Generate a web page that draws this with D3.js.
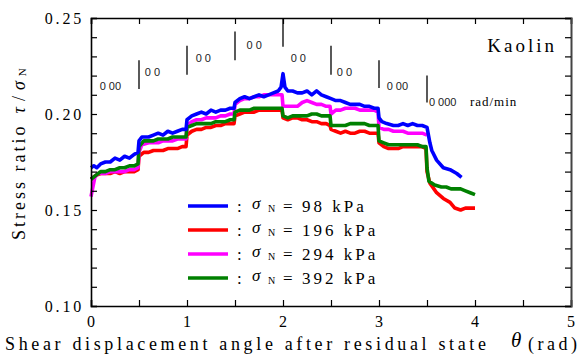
<!DOCTYPE html>
<html><head><meta charset="utf-8">
<script src="https://cdn.jsdelivr.net/npm/d3@7"></script>
<style>body{margin:0;background:#fff}svg{display:block}</style>
</head><body><svg id="c" width="587" height="356"></svg>
<script>
const xTicks = [0,1,2,3,4,5];
const yTicks = [0.10,0.15,0.20,0.25];
const seriesNames = ["98","196","294","392"];
const seriesColors = ["#0000ff","#ff0000","#ff00ff","#008000"];

const blue = [[0,0.172],[0.03,0.173],[0.06,0.172],[0.1,0.174],[0.15,0.175],[0.2,0.175],[0.25,0.177],[0.3,0.176],[0.35,0.178],[0.4,0.177],[0.45,0.179],[0.49,0.180],[0.5,0.186],[0.53,0.188],[0.6,0.188],[0.65,0.189],[0.7,0.190],[0.75,0.189],[0.8,0.191],[0.85,0.190],[0.9,0.191],[0.95,0.192],[0.99,0.192],[1.0,0.197],[1.05,0.199],[1.1,0.200],[1.15,0.201],[1.2,0.200],[1.25,0.202],[1.3,0.201],[1.35,0.202],[1.4,0.202],[1.45,0.203],[1.49,0.203],[1.5,0.206],[1.55,0.208],[1.6,0.209],[1.65,0.208],[1.7,0.209],[1.75,0.210],[1.8,0.209],[1.85,0.210],[1.9,0.211],[1.95,0.212],[1.98,0.214],[2.0,0.221],[2.02,0.214],[2.05,0.212],[2.1,0.212],[2.15,0.211],[2.2,0.211],[2.25,0.212],[2.3,0.210],[2.35,0.212],[2.4,0.210],[2.45,0.209],[2.5,0.208],[2.55,0.207],[2.6,0.207],[2.65,0.206],[2.7,0.205],[2.75,0.205],[2.8,0.205],[2.85,0.204],[2.9,0.204],[2.95,0.203],[2.99,0.203],[3.0,0.198],[3.03,0.196],[3.08,0.195],[3.15,0.194],[3.2,0.194],[3.25,0.195],[3.3,0.194],[3.35,0.195],[3.4,0.194],[3.45,0.194],[3.5,0.193],[3.53,0.185],[3.55,0.181],[3.6,0.176],[3.67,0.172],[3.74,0.171],[3.81,0.169],[3.86,0.167]];
const red = [[0,0.166],[0.05,0.168],[0.1,0.169],[0.15,0.169],[0.2,0.169],[0.25,0.170],[0.3,0.169],[0.35,0.170],[0.4,0.170],[0.45,0.170],[0.49,0.171],[0.5,0.178],[0.55,0.180],[0.6,0.180],[0.65,0.181],[0.7,0.181],[0.75,0.181],[0.8,0.182],[0.85,0.182],[0.9,0.182],[0.95,0.183],[0.99,0.183],[1.0,0.189],[1.05,0.191],[1.1,0.192],[1.15,0.192],[1.2,0.193],[1.25,0.193],[1.3,0.194],[1.35,0.194],[1.4,0.195],[1.45,0.195],[1.49,0.195],[1.5,0.199],[1.55,0.200],[1.6,0.201],[1.65,0.201],[1.7,0.201],[1.75,0.202],[1.8,0.202],[1.85,0.202],[1.9,0.202],[1.95,0.202],[1.99,0.202],[2.0,0.198],[2.05,0.197],[2.1,0.198],[2.15,0.198],[2.2,0.197],[2.25,0.197],[2.3,0.196],[2.35,0.196],[2.4,0.195],[2.45,0.195],[2.49,0.194],[2.5,0.192],[2.55,0.191],[2.6,0.190],[2.65,0.191],[2.7,0.190],[2.75,0.190],[2.8,0.191],[2.85,0.191],[2.9,0.190],[2.95,0.190],[2.99,0.190],[3.0,0.185],[3.05,0.183],[3.1,0.182],[3.15,0.182],[3.2,0.182],[3.25,0.183],[3.3,0.183],[3.35,0.183],[3.4,0.183],[3.45,0.183],[3.49,0.182],[3.5,0.170],[3.53,0.164],[3.6,0.159],[3.67,0.156],[3.74,0.154],[3.79,0.151],[3.85,0.150],[3.9,0.151],[3.95,0.151],[4.0,0.151]];
const magenta = [[0,0.157],[0.02,0.162],[0.04,0.167],[0.07,0.169],[0.1,0.169],[0.15,0.169],[0.2,0.170],[0.25,0.170],[0.3,0.170],[0.35,0.170],[0.4,0.171],[0.45,0.171],[0.49,0.172],[0.5,0.180],[0.53,0.184],[0.6,0.185],[0.65,0.185],[0.7,0.185],[0.75,0.186],[0.8,0.186],[0.85,0.186],[0.9,0.187],[0.95,0.187],[0.99,0.187],[1.0,0.194],[1.05,0.196],[1.1,0.197],[1.15,0.197],[1.2,0.198],[1.25,0.198],[1.3,0.198],[1.35,0.199],[1.4,0.199],[1.45,0.200],[1.49,0.200],[1.5,0.205],[1.55,0.207],[1.6,0.208],[1.65,0.208],[1.7,0.209],[1.75,0.209],[1.8,0.210],[1.85,0.210],[1.9,0.210],[1.95,0.210],[1.99,0.210],[2.0,0.204],[2.05,0.204],[2.1,0.204],[2.15,0.204],[2.2,0.206],[2.25,0.207],[2.3,0.206],[2.35,0.205],[2.4,0.205],[2.45,0.204],[2.49,0.204],[2.5,0.200],[2.55,0.202],[2.6,0.202],[2.65,0.203],[2.7,0.203],[2.75,0.203],[2.8,0.202],[2.85,0.202],[2.9,0.202],[2.95,0.202],[2.99,0.201],[3.0,0.193],[3.05,0.192],[3.1,0.192],[3.15,0.191],[3.2,0.191],[3.25,0.191],[3.3,0.190],[3.35,0.190],[3.4,0.190],[3.45,0.190],[3.5,0.189]];
const green = [[0,0.166],[0.05,0.168],[0.1,0.170],[0.15,0.170],[0.2,0.171],[0.25,0.171],[0.3,0.172],[0.35,0.172],[0.4,0.173],[0.45,0.173],[0.49,0.174],[0.5,0.183],[0.55,0.186],[0.6,0.186],[0.65,0.186],[0.7,0.187],[0.75,0.187],[0.8,0.187],[0.85,0.188],[0.9,0.188],[0.95,0.188],[0.99,0.188],[1.0,0.193],[1.05,0.194],[1.1,0.195],[1.15,0.195],[1.2,0.195],[1.25,0.195],[1.3,0.196],[1.35,0.196],[1.4,0.196],[1.45,0.197],[1.49,0.197],[1.5,0.201],[1.55,0.202],[1.6,0.202],[1.65,0.202],[1.7,0.203],[1.75,0.203],[1.8,0.203],[1.85,0.203],[1.9,0.203],[1.95,0.203],[1.99,0.203],[2.0,0.199],[2.05,0.198],[2.1,0.199],[2.15,0.199],[2.2,0.199],[2.25,0.199],[2.3,0.200],[2.35,0.200],[2.4,0.199],[2.45,0.199],[2.49,0.199],[2.5,0.194],[2.55,0.194],[2.6,0.194],[2.65,0.194],[2.7,0.195],[2.75,0.195],[2.8,0.195],[2.85,0.195],[2.9,0.194],[2.95,0.194],[2.99,0.194],[3.0,0.186],[3.05,0.185],[3.1,0.184],[3.15,0.184],[3.2,0.184],[3.25,0.184],[3.3,0.184],[3.35,0.184],[3.4,0.184],[3.45,0.183],[3.49,0.183],[3.5,0.172],[3.52,0.165],[3.58,0.163],[3.65,0.162],[3.7,0.162],[3.75,0.161],[3.8,0.161],[3.85,0.161],[3.9,0.160],[3.95,0.159],[4.0,0.158]];

const speedBarX = [0.5,1.0,1.5,2.0,2.5,3.0,3.5];
const speedBarTop = [0.228,0.2355,0.243,0.250,0.2355,0.228,0.220];
const speedBarBot = [0.213,0.2205,0.228,0.235,0.2205,0.2135,0.206];
const speedLabelX = [0.09,0.56,1.09,1.62,2.08,2.56,3.08,3.52];
const speedLabelY = [0.2145,0.222,0.229,0.236,0.229,0.222,0.2145,0.2065];
const speedLabels = ["0 00","0 0","0 0","0 0","0 0","0 0","0 00","0 000"];

const W=587,H=356, L=91,R=571,T=18,B=306;
const x = d3.scaleLinear().domain([0,5]).range([L,R]);
const y = d3.scaleLinear().domain([0.10,0.25]).range([B,T]);
const svg = d3.select("#c");
const serif = "'Liberation Serif','Times New Roman',serif";

// data lines
const line = d3.line().x(d=>x(d[0])).y(d=>y(d[1])).curve(d3.curveLinear);
const order = [[red,1],[magenta,2],[green,3],[blue,0]];
order.forEach(([data,i])=>{
  svg.append("path").datum(data).attr("d",line).attr("fill","none")
    .attr("stroke",seriesColors[i]).attr("stroke-width",3.6).attr("stroke-linejoin","round");
});

// axes (ticks inward)
const minorY = d3.range(0.10,0.2501,0.01);
const minorX = d3.range(0,5.01,0.5);
const gB = svg.append("g").attr("transform",`translate(0,${B})`).call(d3.axisBottom(x).tickValues(minorX).tickSize(-6).tickFormat(""));
const gT = svg.append("g").attr("transform",`translate(0,${T})`).call(d3.axisTop(x).tickValues(minorX).tickSize(-6).tickFormat(""));
const gL = svg.append("g").attr("transform",`translate(${L},0)`).call(d3.axisLeft(y).tickValues(minorY).tickSize(-6).tickFormat(""));
const gR = svg.append("g").attr("transform",`translate(${R},0)`).call(d3.axisRight(y).tickValues(minorY).tickSize(-6).tickFormat(""));
[gB,gT,gL,gR].forEach(g=>{g.selectAll("path").attr("stroke","#000").attr("stroke-width",1.6);g.selectAll("line").attr("stroke","#000").attr("stroke-width",1.2);});
gR.select("path").attr("stroke","#444").attr("stroke-width",2);

// tick labels
svg.append("g").selectAll("text").data(xTicks).join("text")
  .attr("x",d=>x(d)).attr("y",327).attr("text-anchor","middle")
  .attr("font-family",serif).attr("font-size",16).text(d=>d);
svg.append("g").selectAll("text").data(yTicks).join("text")
  .attr("x",84).attr("y",d=>y(d)+6).attr("text-anchor","end")
  .attr("font-family",serif).attr("font-size",16).attr("letter-spacing",2.8).text(d=>d.toFixed(2));

// axis titles
const xt = svg.append("text").attr("x",5).attr("y",350).attr("font-family",serif).attr("font-size",18).attr("letter-spacing",3.65);
xt.append("tspan").text("Shear displacement angle after residual state");
xt.append("tspan").attr("x",511).attr("dy",-3).attr("font-style","italic").attr("font-size",21).text("θ");
xt.append("tspan").attr("x",528).attr("dy",3).attr("letter-spacing",3.5).text("(rad)");
const yt = svg.append("text").attr("transform","translate(25,240) rotate(-90)").attr("font-family",serif).attr("font-size",18).attr("letter-spacing",3);
yt.append("tspan").text("Stress ratio");
yt.append("tspan").attr("dx",10).attr("font-style","italic").text("τ");
yt.append("tspan").attr("dx",3).text("/");
yt.append("tspan").attr("dx",3).attr("font-style","italic").text("σ");
yt.append("tspan").attr("font-size",11).attr("dx",2).attr("dy",1).text("N");

// Kaolin
svg.append("text").attr("x",557).attr("y",52).attr("text-anchor","end").attr("font-family",serif).attr("font-size",19).attr("letter-spacing",3).text("Kaolin");

// speed annotations
svg.append("g").selectAll("line").data(speedBarX).join("line")
  .attr("x1",d=>x(d)).attr("x2",d=>x(d))
  .attr("y1",(d,i)=>y(speedBarTop[i])).attr("y2",(d,i)=>y(speedBarBot[i]))
  .attr("stroke","#000").attr("stroke-width",1.3);
svg.append("g").selectAll("text").data(speedLabels).join("text")
  .attr("x",(d,i)=>x(speedLabelX[i])).attr("y",(d,i)=>y(speedLabelY[i])+4)
  .attr("font-family","'Liberation Sans',Arial,sans-serif").attr("font-size",11)
  .attr("fill","#222").text(d=>d);
svg.append("text").attr("x",x(3.52)+41).attr("y",y(0.2065)+4).attr("font-family",serif).attr("font-size",13).attr("letter-spacing",1).text("rad/min");

// legend
const legY = [206,230,254,278];
const lg = svg.append("g");
seriesNames.forEach((n,i)=>{
  lg.append("line").attr("x1",188).attr("x2",228).attr("y1",legY[i]).attr("y2",legY[i])
    .attr("stroke",seriesColors[i]).attr("stroke-width",3.6);
  const t = lg.append("text").attr("y",legY[i]+6).attr("font-family",serif).attr("font-size",17).attr("letter-spacing",3);
  t.append("tspan").attr("x",237).text(":");
  t.append("tspan").attr("x",252).attr("dy",-3).attr("font-style","italic").text("σ");
  t.append("tspan").attr("x",268).attr("dy",3).attr("font-size",10).text("N");
  t.append("tspan").attr("x",283).text("=");
  t.append("tspan").attr("x",302).text(n+" kPa");
});
</script></body></html>
